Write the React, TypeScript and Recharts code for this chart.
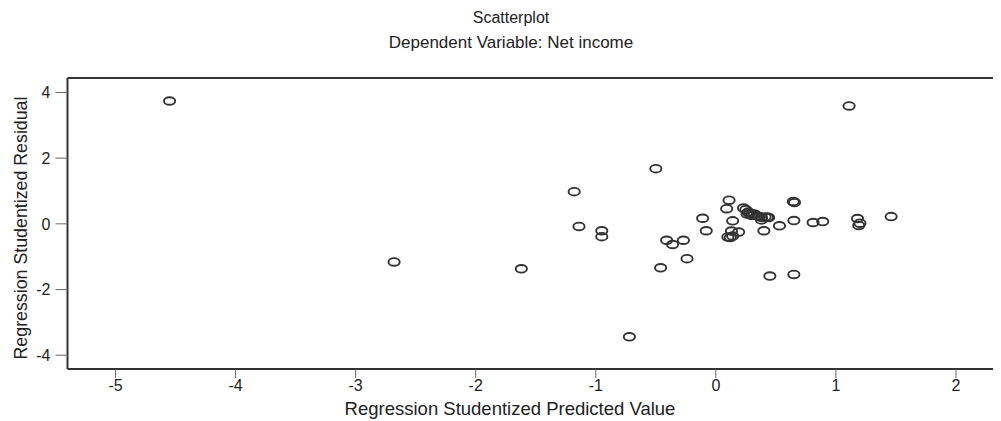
import React from 'react';
import { ScatterChart, Scatter, XAxis, YAxis, ReferenceLine } from 'recharts';

const predictedValues: number[] = [
  -4.55, -2.68, -1.62, -1.18, -1.14, -0.95, -0.95, -0.72, -0.50, -0.46,
  -0.41, -0.36, -0.27, -0.24, -0.11, -0.08, 0.11, 0.09, 0.14, 0.13,
  0.19, 0.12, 0.14, 0.10, 0.40, 0.53, 0.645, 0.655, 0.65, 0.81,
  0.89, 1.18, 1.20, 1.19, 1.46, 0.45, 0.65, 1.11, 0.23, 0.25,
  0.27, 0.28, 0.30, 0.32, 0.34, 0.36, 0.38, 0.41, 0.44, 0.30,
  0.26, 0.38, 0.43,
];
const residualValues: number[] = [
  3.74, -1.16, -1.37, 0.98, -0.08, -0.21, -0.39, -3.44, 1.68, -1.34,
  -0.50, -0.63, -0.50, -1.06, 0.17, -0.21, 0.72, 0.46, 0.09, -0.22,
  -0.25, -0.42, -0.37, -0.40, -0.21, -0.06, 0.68, 0.65, 0.10, 0.04,
  0.07, 0.16, 0.02, -0.05, 0.22, -1.59, -1.54, 3.59, 0.48, 0.43,
  0.36, 0.31, 0.28, 0.30, 0.25, 0.22, 0.20, 0.21, 0.19, 0.25,
  0.30, 0.12, 0.20,
];
const xTicks: number[] = [-5, -4, -3, -2, -1, 0, 1, 2];
const yTicks: number[] = [-4, -2, 0, 2, 4];
const xDomain: [number, number] = [-5.4, 2.375];
const yDomain: [number, number] = [-4.42, 4.44];

const titleText = 'Scatterplot';
const subtitleText = 'Dependent Variable: Net income';
const xAxisTitle = 'Regression Studentized Predicted Value';
const yAxisTitle = 'Regression Studentized Residual';

const data = predictedValues.map((x, i) => ({ x, y: residualValues[i] }));

const FONT = '"Liberation Sans", Arial, sans-serif';

const Marker = (props: any) => {
  const { cx, cy } = props;
  if (cx == null || cy == null) return null;
  return (
    <ellipse cx={cx} cy={cy} rx={5.6} ry={3.8} fill="none" stroke="#333" strokeWidth={1.9} />
  );
};

export default function App() {
  return (
    <div style={{ position: 'relative', width: 993, height: 413, fontFamily: FONT }}>
      <ScatterChart width={993} height={413} margin={{ top: 70, right: 0, bottom: 0, left: 0 }}>
        <XAxis
          type="number"
          dataKey="x"
          domain={xDomain}
          ticks={xTicks}
          allowDataOverflow
          height={52}
          tickSize={9}
          tickMargin={2}
          axisLine={{ stroke: '#333', strokeWidth: 2 }}
          tickLine={{ stroke: '#666', strokeWidth: 1 }}
          tick={{ fontSize: 16, fill: '#222', fontFamily: FONT }}
        />
        <YAxis
          type="number"
          dataKey="y"
          domain={yDomain}
          ticks={yTicks}
          allowDataOverflow
          width={59.5}
          tickSize={12}
          tickMargin={5}
          axisLine={{ stroke: '#333', strokeWidth: 2 }}
          tickLine={{ stroke: '#666', strokeWidth: 1 }}
          tick={{ fontSize: 16, fill: '#222', fontFamily: FONT }}
        />
        <ReferenceLine y={yDomain[1]} stroke="#333" strokeWidth={2} ifOverflow="extendDomain" />
        <Scatter data={data} shape={<Marker />} isAnimationActive={false} />
      </ScatterChart>
      <svg
        width={993}
        height={413}
        style={{ position: 'absolute', left: 0, top: 0, pointerEvents: 'none' }}
      >
        <text x={503} y={15} textAnchor="middle" fontSize={16} fill="#222" fontFamily={FONT}>
          {titleText}
        </text>
        <text x={503} y={40} textAnchor="middle" fontSize={17} fill="#222" fontFamily={FONT}>
          {subtitleText}
        </text>
        <text x={502} y={407} textAnchor="middle" fontSize={18.5} fill="#222" fontFamily={FONT}>
          {xAxisTitle}
        </text>
        <text
          x={0}
          y={0}
          transform="translate(13, 220) rotate(-90)"
          textAnchor="middle"
          dominantBaseline="central"
          fontSize={17.8}
          fill="#222"
          fontFamily={FONT}
        >
          {yAxisTitle}
        </text>
      </svg>
    </div>
  );
}
